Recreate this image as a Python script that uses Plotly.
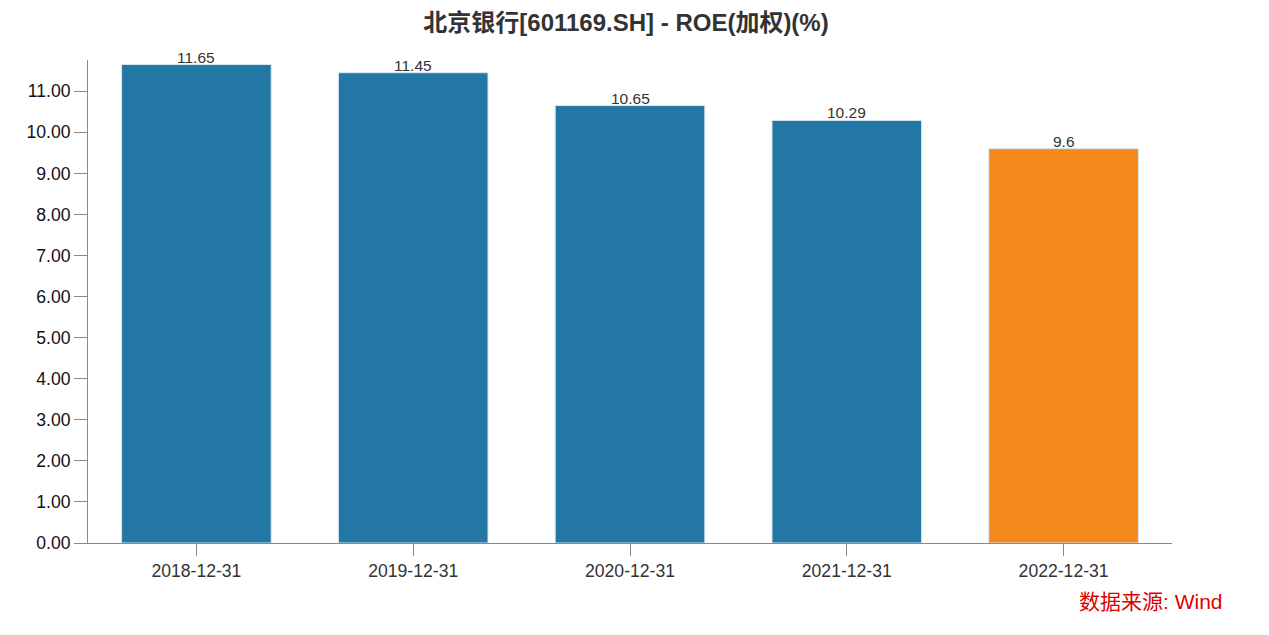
import plotly.graph_objects as go

categories = ["2018-12-31", "2019-12-31", "2020-12-31", "2021-12-31", "2022-12-31"]
roe_values = [11.65, 11.45, 10.65, 10.29, 9.6]
value_labels = ["11.65", "11.45", "10.65", "10.29", "9.6"]
tick_vals = [0, 1, 2, 3, 4, 5, 6, 7, 8, 9, 10, 11]
tick_text = ["%.2f" % v for v in tick_vals]

blue = "#2377a4"
orange = "#f5881b"
colors = [blue] * (len(categories) - 1) + [orange]
FONT = "Liberation Sans, Arial, 'Noto Sans CJK SC', sans-serif"

fig = go.Figure()
fig.add_trace(go.Bar(
    x=categories, y=roe_values,
    marker=dict(color=colors, line=dict(color="#d6e6ef", width=1)),
    hoverinfo="skip",
))
for c, v, t in zip(categories, roe_values, value_labels):
    fig.add_annotation(
        x=c, y=v, text=t, showarrow=False, xanchor="center", yanchor="bottom",
        yshift=-3, font=dict(size=15.5, color="#333333", family=FONT),
    )

fig.update_layout(
    width=1269, height=635,
    margin=dict(l=80, r=105, t=52, b=100, autoexpand=False),
    paper_bgcolor="white", plot_bgcolor="white",
    bargap=0.31,
    showlegend=False,
    font=dict(family=FONT),
    title=dict(
        text="<b>北京银行[601169.SH] - ROE(加权)(%)</b>",
        x=0.487, xanchor="center", y=0.977, yanchor="middle",
        font=dict(size=24, color="#333333", family=FONT),
    ),
)
fig.update_xaxes(
    type="category", automargin=False,
    showline=True, linecolor="#888888", linewidth=1,
    ticks="outside", ticklen=12, tickcolor="#888888",
    tickfont=dict(size=17.6, color="#333333"),
    showgrid=False, zeroline=False,
)
fig.update_yaxes(
    range=[0, 11.76], automargin=False,
    tickvals=tick_vals, ticktext=tick_text,
    showline=True, linecolor="#888888", linewidth=1,
    ticks="outside", ticklen=13, tickcolor="#888888",
    tickfont=dict(size=17.6, color="#111111"),
    showgrid=False, zeroline=False,
)
fig.add_annotation(
    text="数据来源: Wind", xref="paper", yref="paper",
    x=1.049, y=-0.122, xanchor="right", yanchor="middle", showarrow=False,
    font=dict(size=21, color="#e00000", family=FONT),
)

fig.write_html("out.html")
